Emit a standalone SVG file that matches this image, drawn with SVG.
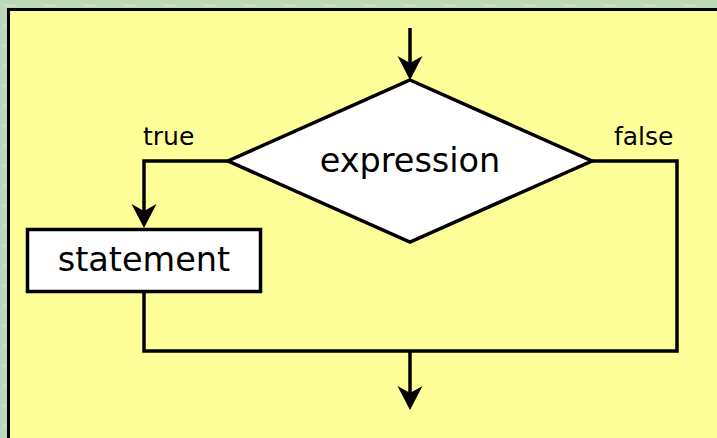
<svg xmlns="http://www.w3.org/2000/svg" width="717" height="438" viewBox="0 0 717 438">
<style>
.ln{fill:none;stroke:#000;stroke-width:3.5;stroke-linejoin:miter}
.shape{fill:#fff;stroke:#000;stroke-width:3.5}
.ah{fill:#000;stroke:none}
.t{font-family:"DejaVu Sans",sans-serif;fill:#000}
.big{font-size:33.5px;text-anchor:middle}
.lbl{font-size:25px}
</style>
<defs>
<pattern id="tex" width="40" height="20" patternUnits="userSpaceOnUse">
<rect width="40" height="20" fill="#bcd8b6"/>
<rect x="3" y="4" width="14" height="3" fill="#c8e0c2"/>
<rect x="22" y="12" width="12" height="3" fill="#b0cfaa"/>
</pattern>
<path id="ahDown" d="M0,0 L-12.5,-24 L0,-17 L12.5,-24 Z"/>
</defs>
<rect width="717" height="438" fill="url(#tex)"/>
<rect x="8.5" y="9.5" width="720" height="440" fill="#ffff99" stroke="#000" stroke-width="3"/>
<g id="connectors">
<path class="ln" d="M410,28 V66"/>
<use href="#ahDown" class="ah" x="410" y="80"/>
<path class="ln" d="M228,161 H144 V214"/>
<use href="#ahDown" class="ah" x="144" y="228"/>
<path class="ln" d="M144,291 V351 H677 V161 H592"/>
<path class="ln" d="M410,351 V396"/>
<use href="#ahDown" class="ah" x="410" y="410"/>
</g>
<g id="decision">
<polygon class="shape" points="410,80 592,161 410,242 228,161"/>
<text class="t big" x="410" y="172">expression</text>
</g>
<g id="statement">
<rect class="shape" x="27.5" y="229.5" width="233" height="62"/>
<text class="t big" x="144" y="271">statement</text>
</g>
<g id="labels">
<text class="t lbl" x="143" y="145">true</text>
<text class="t lbl" x="614" y="145">false</text>
</g>
</svg>
